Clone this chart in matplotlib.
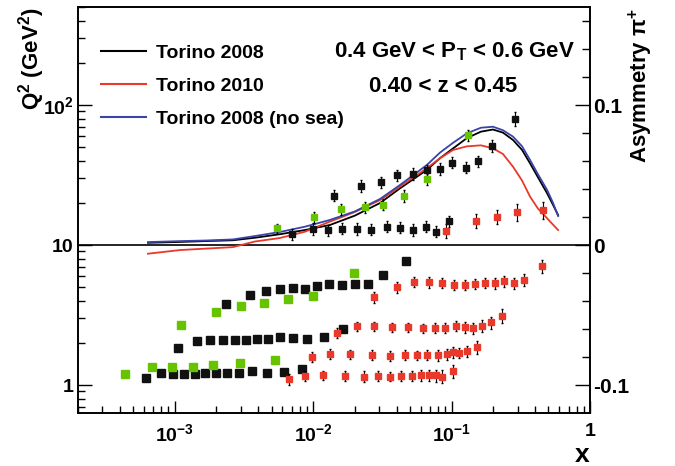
import matplotlib.pyplot as plt
from matplotlib.ticker import FixedLocator, FixedFormatter, LogLocator, NullFormatter

# ----------------------------------------------------------------------------
# Curve del modello (asimmetria vs x)
# ----------------------------------------------------------------------------
x_curve = [6.4e-4, 1.09e-3, 1.65e-3, 2.63e-3, 3.79e-3, 5.74e-3, 8.71e-3, 1.32e-2,
           2.00e-2, 3.04e-2, 4.24e-2, 6.61e-2, 8.24e-2, 0.1024, 0.129, 0.163,
           0.199, 0.235, 0.278, 0.323, 0.369, 0.421, 0.490, 0.541, 0.588]
a_torino2008 = [0.0016, 0.0022, 0.0028, 0.0034, 0.0052, 0.0077, 0.0107, 0.0143,
                0.0210, 0.0300, 0.0405, 0.0536, 0.0620, 0.0690, 0.0764, 0.0810,
                0.0825, 0.0803, 0.0750, 0.0679, 0.0583, 0.0483, 0.0369, 0.0286, 0.0214]
a_torino2010 = [-0.0062, -0.0036, -0.0026, -0.0015, 0.0025, 0.0050, 0.0095, 0.0167,
                0.0236, 0.0321, 0.0417, 0.0548, 0.0620, 0.0679, 0.0705, 0.0712,
                0.0691, 0.0650, 0.0559, 0.0460, 0.0345, 0.0260, 0.0191, 0.0145, 0.0107]
a_nosea = [0.0021, 0.0028, 0.0032, 0.0040, 0.0064, 0.0093, 0.0131, 0.0179,
           0.0240, 0.0329, 0.0429, 0.0571, 0.0660, 0.0730, 0.0798, 0.0838,
           0.0845, 0.0820, 0.0774, 0.0705, 0.0607, 0.0505, 0.0393, 0.0300, 0.0207]

# ----------------------------------------------------------------------------
# Punti di asimmetria (parte alta)
# ----------------------------------------------------------------------------
x_asym_black = [7.07e-3, 9.90e-3, 1.284e-2, 1.419e-2, 1.626e-2, 2.08e-2, 2.22e-2, 2.62e-2,
                3.07e-2, 3.41e-2, 4.03e-2, 4.27e-2, 5.23e-2, 5.28e-2, 6.69e-2, 6.56e-2,
                8.27e-2, 7.71e-2, 0.1015, 0.0954, 0.1261, 0.1546, 0.196, 0.2884]
a_asym_black = [0.0077, 0.0115, 0.0106, 0.0352, 0.0116, 0.0115, 0.0421, 0.0109,
                0.0448, 0.0131, 0.0498, 0.0125, 0.0507, 0.0107, 0.0534, 0.0131,
                0.0543, 0.0094, 0.0587, 0.0169, 0.0552, 0.0597, 0.0707, 0.0903]
e_asym_black = [0.004, 0.004, 0.004, 0.004, 0.004, 0.004, 0.004, 0.004,
                0.004, 0.004, 0.004, 0.004, 0.004, 0.004, 0.004, 0.004,
                0.004, 0.004, 0.004, 0.004, 0.004, 0.004, 0.004, 0.005]

x_asym_green = [5.49e-3, 1.015e-2, 1.594e-2, 2.37e-2, 3.21e-2, 4.53e-2, 6.61e-2, 0.1303]
a_asym_green = [0.0119, 0.0198, 0.0254, 0.0270, 0.0288, 0.0350, 0.0469, 0.0783]
e_asym_green = [0.003, 0.004, 0.004, 0.004, 0.004, 0.004, 0.004, 0.004]

x_asym_red = [9.06e-2, 0.149, 0.212, 0.2956, 0.460]
a_asym_red = [0.0100, 0.0174, 0.0199, 0.0234, 0.0249]
e_asym_red = [0.005, 0.005, 0.005, 0.006, 0.006]

# ----------------------------------------------------------------------------
# Binning cinematico Q^2 vs x (parte bassa)
# ----------------------------------------------------------------------------
x_bin_black = [6.24e-4, 7.9e-4, 9.7e-4, 1.17e-3, 1.40e-3, 1.66e-3, 1.98e-3, 2.39e-3,
               2.92e-3, 3.59e-3, 4.60e-3, 6.16e-3, 8.28e-3,
               1.06e-3, 1.44e-3, 1.79e-3, 2.22e-3, 2.72e-3, 3.26e-3, 3.92e-3, 4.68e-3,
               5.74e-3, 7.19e-3, 9.08e-3, 1.19e-2, 1.63e-2,
               2.33e-3, 3.47e-3, 4.54e-3, 5.71e-3, 7.10e-3, 8.71e-3, 1.06e-2, 1.30e-2,
               1.62e-2, 2.00e-2, 2.47e-2, 3.17e-2, 4.68e-2]
q2_bin_black = [1.13, 1.21, 1.20, 1.20, 1.20, 1.22, 1.22, 1.21,
                1.22, 1.25, 1.22, 1.24, 1.30,
                1.84, 2.07, 2.10, 2.11, 2.08, 2.11, 2.12, 2.13,
                2.19, 2.18, 2.14, 2.19, 2.53,
                3.79, 4.41, 4.73, 4.85, 4.93, 4.87, 5.07, 5.24,
                5.16, 5.25, 5.26, 6.13, 7.72]

x_bin_green = [4.4e-4, 6.8e-4, 9.6e-4, 1.36e-3, 1.89e-3, 2.97e-3, 5.3e-3,
               1.11e-3, 1.99e-3, 3.02e-3, 4.42e-3, 6.6e-3, 1.0e-2, 1.98e-2]
q2_bin_green = [1.20, 1.35, 1.35, 1.35, 1.38, 1.44, 1.52,
                2.68, 3.32, 3.67, 3.87, 4.09, 4.34, 6.34]

x_bin_red = [6.73e-3, 8.79e-3, 1.18e-2, 1.69e-2, 2.32e-2, 2.96e-2, 3.60e-2, 4.32e-2,
             5.15e-2, 6.01e-2, 6.81e-2, 7.71e-2, 8.57e-2, 0.103,
             9.73e-3, 1.32e-2, 1.84e-2, 2.67e-2, 3.60e-2, 4.64e-2, 5.59e-2, 6.64e-2,
             8.04e-2, 9.27e-2, 0.103, 0.114, 0.129, 0.152,
             1.48e-2, 2.06e-2, 2.74e-2, 3.70e-2, 4.86e-2, 6.18e-2, 7.55e-2, 9.0e-2,
             0.107, 0.124, 0.143, 0.165, 0.191, 0.233,
             2.76e-2, 4.05e-2, 5.32e-2, 6.81e-2, 8.55e-2, 0.104, 0.125, 0.148,
             0.174, 0.205, 0.240, 0.282, 0.335, 0.447]
q2_bin_red = [1.10, 1.16, 1.17, 1.16, 1.15, 1.16, 1.15, 1.16,
              1.16, 1.17, 1.18, 1.17, 1.15, 1.26,
              1.58, 1.67, 1.66, 1.65, 1.62, 1.64, 1.63, 1.64,
              1.63, 1.66, 1.71, 1.70, 1.75, 1.87,
              2.36, 2.63, 2.62, 2.58, 2.59, 2.55, 2.57, 2.55,
              2.64, 2.58, 2.55, 2.65, 2.80, 3.13,
              4.23, 4.99, 5.46, 5.42, 5.35, 5.18, 5.19, 5.31,
              5.38, 5.34, 5.49, 5.32, 5.65, 7.11]
e_bin_red = [0.10, 0.09, 0.09, 0.09, 0.10, 0.09, 0.09, 0.09,
             0.09, 0.10, 0.11, 0.12, 0.12, 0.13,
             0.13, 0.13, 0.13, 0.13, 0.13, 0.13, 0.13, 0.14,
             0.14, 0.15, 0.16, 0.15, 0.16, 0.20,
             0.20, 0.20, 0.20, 0.20, 0.20, 0.20, 0.21, 0.21,
             0.22, 0.22, 0.22, 0.24, 0.28, 0.35,
             0.40, 0.42, 0.45, 0.45, 0.45, 0.44, 0.44, 0.45,
             0.46, 0.46, 0.48, 0.48, 0.55, 0.75]

# ----------------------------------------------------------------------------
# Stile
# ----------------------------------------------------------------------------
plt.rcParams['font.family'] = ['Liberation Sans', 'DejaVu Sans']
plt.rcParams['font.weight'] = 'bold'
plt.rcParams['mathtext.fontset'] = 'custom'
plt.rcParams['mathtext.rm'] = 'Liberation Sans:bold'
plt.rcParams['mathtext.it'] = 'Liberation Sans:bold'
plt.rcParams['mathtext.bf'] = 'Liberation Sans:bold'

BLACK = '#111111'
GREEN = '#66c300'
RED = '#e8392a'
BLUE = '#3a44a8'

fig = plt.figure(figsize=(6.75, 4.66), dpi=100)
ax = fig.add_axes([0.1156, 0.1137, 0.7585, 0.8712])
ax.set_xscale('log')
ax.set_yscale('log')
ax.set_xlim(2e-4, 1)
ax.set_ylim(10 ** -0.2, 10 ** 2.7)

# asse destro: asimmetria, allineato con log10(Q^2)
ax2 = ax.twinx()
ax2.set_ylim(-0.12, 0.17)

ax.axhline(10, color='black', lw=1.2)

# parte bassa: bin in Q^2
ax.plot(x_bin_black, q2_bin_black, 's', ms=5.3, color=BLACK)
ax.plot(x_bin_green, q2_bin_green, 's', ms=5.3, color=GREEN)
ax.errorbar(x_bin_red, q2_bin_red, yerr=e_bin_red, fmt='s', ms=5, color=RED,
            ecolor='black', elinewidth=0.8, capsize=1)

# parte alta: curve e punti
ax2.plot(x_curve, a_torino2008, color='black', lw=1.3, label='Torino 2008')
ax2.plot(x_curve, a_torino2010, color=RED, lw=1.3, label='Torino 2010')
ax2.plot(x_curve, a_nosea, color=BLUE, lw=1.3, label='Torino 2008 (no sea)')

ax2.errorbar(x_asym_black, a_asym_black, yerr=e_asym_black, fmt='s', ms=5, color=BLACK,
             ecolor='black', elinewidth=0.8, capsize=1)
ax2.errorbar(x_asym_green, a_asym_green, yerr=e_asym_green, fmt='s', ms=5, color=GREEN,
             ecolor='black', elinewidth=0.8, capsize=1)
ax2.errorbar(x_asym_red, a_asym_red, yerr=e_asym_red, fmt='s', ms=5, color=RED,
             ecolor='black', elinewidth=0.8, capsize=1)

# ----------------------------------------------------------------------------
# Assi e tick
# ----------------------------------------------------------------------------
for a in (ax, ax2):
    for s in a.spines.values():
        s.set_linewidth(1.2)

ax.xaxis.set_major_locator(FixedLocator([1e-3, 1e-2, 1e-1, 1]))
ax.xaxis.set_major_formatter(FixedFormatter(['$10^{-3}$', '$10^{-2}$', '$10^{-1}$', '1']))
ax.xaxis.set_minor_locator(LogLocator(base=10, subs=range(2, 10), numticks=50))
ax.xaxis.set_minor_formatter(NullFormatter())

ax.yaxis.set_major_locator(FixedLocator([1, 10, 100]))
ax.yaxis.set_major_formatter(FixedFormatter(['1', '10', '$10^{2}$']))
ax.yaxis.set_minor_locator(LogLocator(base=10, subs=range(2, 10), numticks=50))
ax.yaxis.set_minor_formatter(NullFormatter())

ax.tick_params(which='both', direction='in', top=False, right=False, width=1, labelsize=14)
ax.tick_params(axis='x', which='major', length=9, pad=7)
ax.tick_params(axis='y', which='major', length=10, pad=3)
ax.tick_params(which='minor', length=5)

ax2.yaxis.set_major_locator(FixedLocator([-0.1, 0, 0.1]))
ax2.yaxis.set_major_formatter(FixedFormatter(['-0.1', '0', '0.1']))
ax2.yaxis.set_minor_locator(FixedLocator([-0.08, -0.06, -0.04, -0.02, 0.02, 0.04,
                                          0.06, 0.08, 0.12, 0.14, 0.16]))
ax2.tick_params(which='both', direction='in', width=1, labelsize=15, pad=2)
ax2.tick_params(which='major', length=11)
ax2.tick_params(which='minor', length=6)

# ----------------------------------------------------------------------------
# Testi
# ----------------------------------------------------------------------------
fig.text(0.047, 0.985, 'Q$^{2}$ (GeV$^{2}$)', rotation=90, ha='center', va='top', fontsize=16)
fig.text(0.950, 0.983, 'Asymmetry π$^{+}$', rotation=90, ha='center', va='top', fontsize=16)
fig.text(0.862, 0.024, 'x', ha='center', va='center', fontsize=19)

ax.text(0.736, 0.877, '0.4 GeV < P$_{T}$ < 0.6 GeV', transform=ax.transAxes,
        ha='center', va='baseline', fontsize=16)
ax.text(0.713, 0.791, '0.40 < z < 0.45', transform=ax.transAxes,
        ha='center', va='baseline', fontsize=16)

leg = ax2.legend(loc='upper left', bbox_to_anchor=(0.045, 0.908), frameon=False,
                 fontsize=14, handlelength=2.3, handletextpad=0.5, labelspacing=0.78,
                 borderpad=0, borderaxespad=0)
for line in leg.get_lines():
    line.set_linewidth(1.5)

fig.savefig('out.png', dpi=100)
